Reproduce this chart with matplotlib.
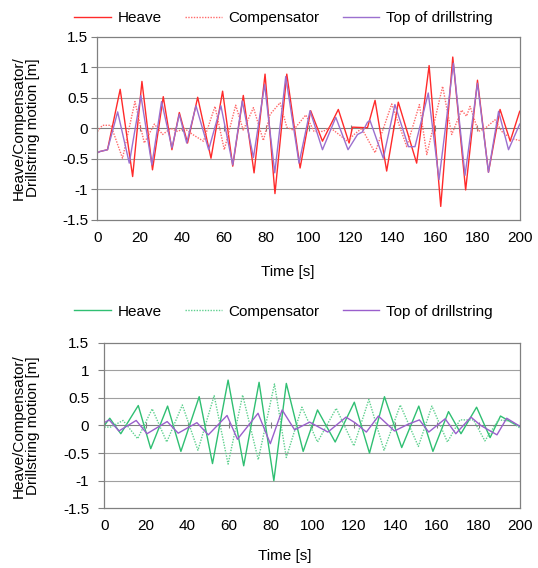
import matplotlib
matplotlib.use("Agg")
import matplotlib.pyplot as plt

plt.rcParams['font.family'] = ['Liberation Sans', 'DejaVu Sans']
plt.rcParams['font.size'] = 11

# ---- top chart (red), peaks/troughs ----
top_heave_t = [0, 1.2, 4.8, 10.8, 16.7, 21.1, 26.1, 31.2, 35.3, 38.8, 42.7, 47.5, 53.8, 59.3,
               64.1, 69.1, 74.2, 79.4, 84.1, 89.7, 96.0, 101.0, 106.6, 114.1, 119.2, 120.8,
               127.9, 131.5, 137.0, 142.5, 151.2, 157.1, 162.6, 168.3, 174.4, 180.0, 185.2,
               190.7, 195.5, 200]
top_heave = [-0.40, -0.38, -0.35, 0.64, -0.79, 0.77, -0.68, 0.52, -0.35, 0.26, -0.24, 0.51,
             -0.49, 0.61, -0.62, 0.54, -0.73, 0.89, -1.07, 0.89, -0.65, 0.29, -0.21, 0.31,
             -0.24, 0.02, 0.01, 0.46, -0.70, 0.43, -0.57, 1.03, -1.28, 1.17, -1.01, 0.79,
             -0.72, 0.31, -0.21, 0.28]

top_comp_t = [0, 2.4, 6.4, 11.9, 17.8, 22.2, 27.0, 30.9, 34.8, 38.0, 41.2, 45.1, 50.2, 55.7,
              60.1, 65.5, 69.1, 73.9, 78.6, 81.8, 86.5, 89.7, 92.8, 98.7, 102.6, 107.0, 110.0,
              118.4, 121.6, 125.2, 131.5, 139.4, 146.5, 152.5, 156.0, 163.5, 167.8, 172.5,
              174.8, 176.5, 180.4, 183.6, 188.3, 191.5, 195.5, 200]
top_comp = [-0.05, 0.05, 0.05, -0.49, 0.44, -0.24, 0.07, -0.10, 0.00, -0.05, 0.00, -0.10,
            -0.21, 0.36, -0.35, 0.38, -0.03, 0.34, -0.20, 0.23, 0.42, 0.02, -0.03, 0.22,
            -0.05, -0.05, 0.02, -0.21, -0.10, 0.00, -0.40, 0.40, -0.30, 0.39, -0.43, 0.69,
            -0.10, 0.30, 0.20, 0.36, -0.05, 0.00, 0.14, -0.05, -0.16, -0.20]

top_drill_t = [0, 1.2, 4.8, 9.6, 15.1, 20.6, 25.8, 30.4, 35.3, 38.8, 42.3, 46.7, 52.7, 58.5,
               64.1, 68.6, 73.9, 79.2, 84.0, 89.2, 95.5, 100.7, 106.6, 112.9, 118.7, 123.2,
               125.5, 127.9, 129.1, 135.4, 140.9, 147.3, 150.4, 156.7, 161.8, 168.6, 174.1,
               180.0, 185.2, 190.0, 194.7, 200]
top_drill = [-0.40, -0.38, -0.35, 0.27, -0.57, 0.54, -0.60, 0.44, -0.32, 0.23, -0.24, 0.37,
             -0.35, 0.37, -0.60, 0.45, -0.48, 0.72, -0.73, 0.85, -0.57, 0.29, -0.35, 0.18,
             -0.35, -0.10, -0.06, 0.10, 0.13, -0.49, 0.39, -0.30, -0.30, 0.58, -0.84, 1.07,
             -0.77, 0.74, -0.72, 0.28, -0.35, 0.07]

# ---- bottom chart (green) ----
bot_heave_t = [0, 2.6, 7.9, 16.3, 22.3, 30.4, 36.8, 45.6, 52.0, 59.5, 67.0, 74.4, 81.5, 87.5,
               95.6, 102.5, 111.0, 120.2, 127.5, 134.7, 143.0, 151.2, 158.0, 165.5, 171.5,
               179.0, 185.5, 190.5, 196.0, 200]
bot_heave = [0.00, 0.13, -0.15, 0.36, -0.42, 0.35, -0.47, 0.52, -0.69, 0.82, -0.73, 0.78,
             -1.00, 0.76, -0.47, 0.28, -0.30, 0.42, -0.50, 0.52, -0.40, 0.35, -0.47, 0.25,
             -0.15, 0.33, -0.22, 0.17, 0.05, -0.02]

bot_comp_t = [0, 3.0, 9.0, 16.0, 23.0, 30.0, 37.5, 45.0, 52.8, 59.5, 66.5, 74.0, 81.8, 87.5,
              95.0, 102.5, 111.5, 120.0, 127.2, 134.5, 142.3, 151.0, 157.5, 165.0, 171.0,
              177.5, 183.0, 189.5, 195.0, 200]
bot_comp = [-0.03, -0.03, 0.09, -0.24, 0.30, -0.30, 0.37, -0.45, 0.54, -0.70, 0.55, -0.62,
            0.75, -0.58, 0.33, -0.30, 0.31, -0.37, 0.47, -0.45, 0.37, -0.38, 0.35, -0.30,
            0.10, 0.10, -0.28, 0.10, 0.08, -0.05]

bot_drill_t = [0, 2.3, 7.0, 15.3, 20.5, 30.2, 35.5, 44.5, 50.0, 59.0, 64.0, 73.9, 79.8, 85.5,
               91.5, 98.7, 107.5, 116.2, 120.5, 126.0, 131.8, 139.5, 146.0, 151.5, 156.0,
               163.9, 169.0, 176.3, 181.0, 188.8, 193.5, 200]
bot_drill = [0.05, 0.10, -0.10, 0.09, -0.15, 0.07, -0.14, 0.05, -0.17, 0.18, -0.25, 0.22,
             -0.33, 0.28, -0.08, 0.06, -0.12, 0.15, 0.05, -0.12, 0.17, -0.10, 0.02, 0.10,
             -0.12, 0.12, -0.15, 0.15, 0.00, -0.17, 0.13, -0.02]

x_ticks = list(range(0, 201, 20))
y_ticks = [-1.5, -1, -0.5, 0, 0.5, 1, 1.5]
y_labels = ['-1.5', '-1', '-0.5', '0', '0.5', '1', '1.5']


def style_axes(ax, label_pad):
    ax.set_xlim(0, 200)
    ax.set_ylim(-1.5, 1.5)
    ax.set_xticks(x_ticks)
    ax.set_yticks(y_ticks)
    ax.set_yticklabels(y_labels)
    for y in y_ticks[1:-1]:
        ax.axhline(y, color='#808080' if y == 0 else '#a0a0a0', lw=0.8, zorder=0)
    # excel style x-axis tick marks sitting on the zero line
    ax.plot(x_ticks, [0] * len(x_ticks), '|', color='#808080', ms=5, mew=0.8, zorder=0)
    for s in ax.spines.values():
        s.set_color('#808080')
        s.set_linewidth(0.9)
    ax.tick_params(axis='x', length=0, pad=8, labelsize=11)
    ax.tick_params(axis='y', length=4, width=0.8, color='#808080', pad=label_pad, labelsize=11)


def add_legend(ax, y):
    ax.legend(loc='center', bbox_to_anchor=(0.527, y), bbox_transform=fig.transFigure,
              ncol=3, frameon=False, handlelength=2.4, handletextpad=0.45,
              columnspacing=1.5, fontsize=11)


fig = plt.figure(figsize=(5.38, 5.68), dpi=100)

ax1 = fig.add_axes([0.181, 0.613, 0.785, 0.322])
ax1.plot(top_heave_t, top_heave, color='#ff2a2a', lw=1.0, label='Heave')
ax1.plot(top_comp_t, top_comp, color='#ff6a6a', lw=1.0, ls=(0, (1, 1)), label='Compensator')
ax1.plot(top_drill_t, top_drill, color='#9b70cf', lw=1.0, label='Top of drillstring')
style_axes(ax1, 2.5)
add_legend(ax1, 0.968)

ax2 = fig.add_axes([0.194, 0.105, 0.773, 0.292])
ax2.plot(bot_heave_t, bot_heave, color='#2fbf72', lw=1.0, label='Heave')
ax2.plot(bot_comp_t, bot_comp, color='#5fd08f', lw=1.0, ls=(0, (1, 1)), label='Compensator')
ax2.plot(bot_drill_t, bot_drill, color='#9a5fcc', lw=1.0, label='Top of drillstring')
style_axes(ax2, 7)
add_legend(ax2, 0.451)

ylab = 'Heave/Compensator/\nDrillstring motion [m]'
fig.text(0.048, 0.775, ylab, rotation=90, ha='center', va='center', fontsize=11,
         linespacing=1.0)
fig.text(0.048, 0.25, ylab, rotation=90, ha='center', va='center', fontsize=11,
         linespacing=1.0)
fig.text(0.535, 0.521, 'Time [s]', ha='center', va='center', fontsize=11)
fig.text(0.53, 0.022, 'Time [s]', ha='center', va='center', fontsize=11)

fig.savefig('out.png', dpi=100)
